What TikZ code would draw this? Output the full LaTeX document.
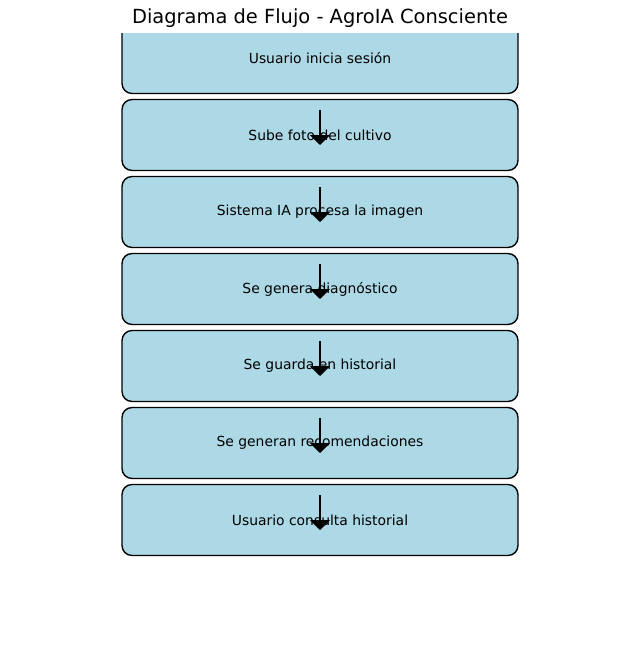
\documentclass[tikz,border=0pt]{standalone}
\usepackage{fontspec}
\setmainfont{DejaVu Sans}
\usetikzlibrary{arrows.meta}
\definecolor{celeste}{HTML}{ADD8E6}
\begin{document}
\begin{tikzpicture}[x=0.72pt, y=-0.72pt,
    caja/.style={draw=black, fill=celeste, line width=1pt, rounded corners=7.2pt,
      minimum width=285.1pt, minimum height=51.1pt, inner sep=0pt, font=\fontsize{10}{12}\selectfont},
    flecha/.style={draw=black, line width=1.4pt, -{Triangle[width=14.4pt,length=7.2pt]}}]
  \useasboundingbox (0,0) rectangle (640,659);
  \node[font=\fontsize{14}{16}\selectfont] (titulo) at (320,18) {Diagrama de Flujo - AgroIA Consciente};

  \begin{scope}
    \clip (0,33) rectangle (640,659);
    \foreach \txt [count=\i] in {Usuario inicia sesión, Sube foto del cultivo,
        Sistema IA procesa la imagen, Se genera diagnóstico, Se guarda en historial,
        Se generan recomendaciones, Usuario consulta historial}
      \node[caja] (b\i) at (320,{58+77*(\i-1)}) {\txt};
  \end{scope}

  \foreach \i in {2,...,7}
    \draw[flecha] ([yshift=18pt]b\i.center) -- ([yshift=-7.2pt]b\i.center);
\end{tikzpicture}
\end{document}
